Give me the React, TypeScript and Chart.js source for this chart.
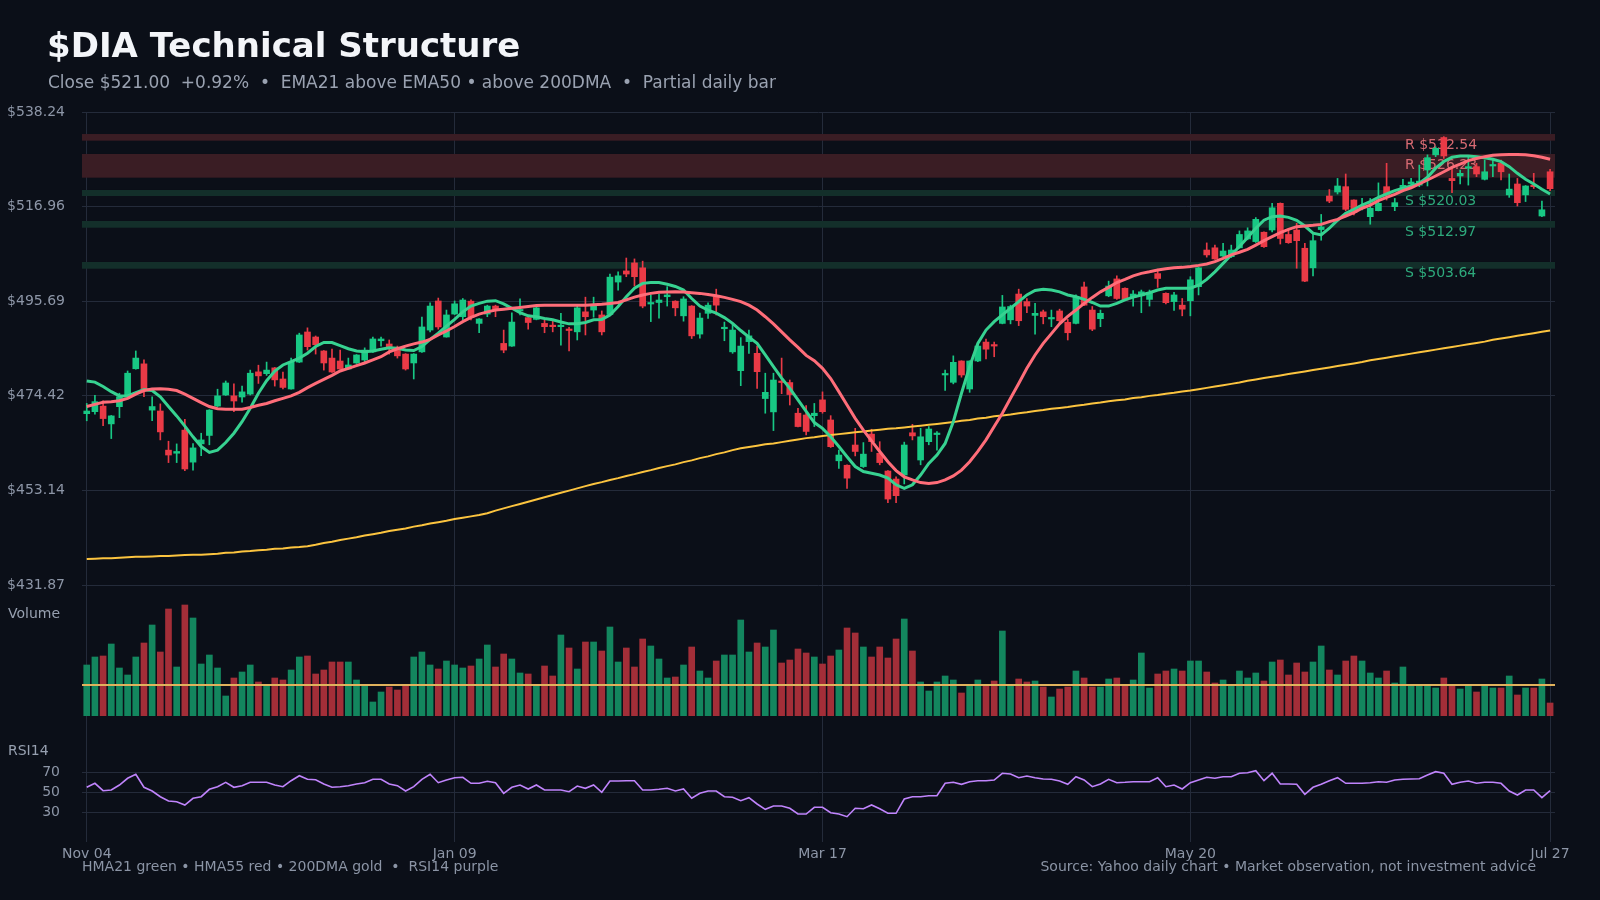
import React, { useEffect, useRef } from 'react';
import { Chart, registerables } from 'chart.js';

Chart.register(...registerables);

const FONT = '"DejaVu Sans", "Liberation Sans", Arial, sans-serif';
const BG = '#0b0f18';
const GRID = '#242b3a';
const TICK = '#8d96a7';
const UP = '#18c884';
const DOWN = '#ea3a46';
const VOL_UP = '#13865e';
const VOL_DOWN = '#a32e38';

// Daily OHLC, one entry per session (Nov 04 .. Jul 27)
const opens = [
  470.40, 470.85, 472.10, 468.10, 471.97, 474.20, 480.50, 481.60, 471.20, 471.00,
  462.20, 461.50, 466.70, 459.50, 463.60, 465.50, 472.10, 474.60, 474.40, 474.15,
  474.80, 479.80, 479.40, 480.70, 478.20, 475.95, 482.00, 488.77, 487.64, 484.50,
  482.90, 482.24, 480.45, 481.80, 482.47, 484.30, 486.80, 486.07, 485.20, 483.80,
  481.80, 484.30, 489.20, 495.74, 487.64, 492.80, 492.20, 495.70, 490.70, 492.80,
  494.60, 486.20, 485.60, 493.50, 492.00, 491.60, 490.70, 490.30, 489.97, 489.40,
  488.80, 493.30, 493.70, 492.60, 492.70, 500.00, 502.50, 504.30, 503.20, 495.06,
  495.40, 496.70, 495.70, 492.40, 494.60, 488.30, 492.96, 496.70, 489.50, 484.30,
  480.07, 486.60, 483.97, 473.80, 470.80, 477.60, 477.40, 470.50, 470.10, 469.95,
  473.50, 468.98, 459.80, 458.80, 463.35, 458.50, 465.80, 461.50, 457.50, 455.70,
  456.60, 466.10, 459.98, 464.10, 465.70, 479.10, 477.45, 482.25, 475.95, 482.25,
  486.50, 485.85, 490.70, 491.50, 497.30, 495.60, 492.50, 493.30, 491.70, 493.50,
  490.95, 490.70, 498.90, 493.70, 491.76, 496.90, 500.70, 498.60, 496.56, 496.90,
  496.10, 501.90, 497.46, 495.60, 494.80, 495.80, 498.96, 507.20, 507.70, 505.85,
  505.70, 507.70, 509.70, 509.10, 511.20, 511.70, 517.70, 510.70, 511.70, 507.60,
  503.20, 511.80, 519.35, 520.25, 521.45, 518.45, 516.80, 514.70, 516.05, 521.45,
  516.95, 520.55, 522.05, 521.80, 525.20, 528.60, 532.50, 523.30, 523.85, 525.60,
  525.95, 523.10, 526.10, 526.70, 519.60, 522.05, 519.60, 521.80, 514.85, 524.80,
];

const highs = [
  472.70, 474.50, 473.30, 470.00, 475.00, 480.00, 484.50, 482.50, 474.20, 472.60,
  464.20, 463.60, 469.10, 463.70, 466.00, 471.30, 475.90, 477.75, 477.10, 476.60,
  480.20, 481.30, 482.00, 480.80, 479.77, 482.90, 488.50, 489.70, 487.87, 484.60,
  484.94, 484.70, 482.90, 483.70, 485.20, 487.60, 487.64, 486.97, 485.60, 483.90,
  483.90, 492.10, 495.30, 496.40, 493.70, 495.74, 496.30, 496.00, 491.80, 494.80,
  494.80, 489.20, 493.10, 496.20, 492.10, 494.50, 491.50, 491.50, 492.96, 489.80,
  494.60, 496.60, 496.60, 493.50, 501.80, 502.30, 505.40, 505.20, 504.70, 497.10,
  497.30, 498.96, 495.80, 496.70, 494.70, 493.00, 495.30, 498.40, 491.00, 490.70,
  487.50, 489.20, 485.60, 479.50, 479.50, 482.90, 477.97, 471.60, 472.20, 472.70,
  475.30, 469.95, 462.20, 458.90, 467.10, 463.90, 466.90, 464.10, 457.60, 456.20,
  464.00, 468.00, 467.10, 467.50, 466.35, 480.20, 483.40, 482.30, 482.30, 486.20,
  487.20, 486.50, 497.00, 494.80, 498.40, 496.30, 495.20, 493.70, 493.70, 493.90,
  491.60, 497.10, 500.00, 494.50, 493.70, 500.20, 501.40, 498.70, 498.06, 498.20,
  498.20, 502.90, 497.60, 497.70, 496.30, 501.20, 503.30, 508.80, 508.30, 508.70,
  508.30, 511.50, 512.20, 514.50, 511.30, 517.70, 517.80, 511.70, 513.20, 508.70,
  510.90, 515.20, 520.80, 523.30, 524.30, 518.50, 518.80, 518.80, 522.30, 526.70,
  518.80, 523.10, 523.30, 526.30, 528.60, 530.40, 532.70, 525.90, 525.20, 528.05,
  526.70, 527.45, 527.80, 527.45, 524.30, 523.30, 521.70, 524.45, 518.20, 525.35,
];

const lows = [
  468.80, 470.30, 467.70, 464.80, 469.50, 473.80, 480.40, 474.20, 468.80, 464.50,
  459.40, 459.40, 457.60, 457.70, 460.95, 463.40, 472.00, 474.50, 470.85, 473.00,
  474.60, 477.20, 479.00, 476.60, 475.95, 475.90, 481.90, 484.70, 483.80, 480.20,
  479.70, 480.40, 480.40, 481.70, 482.00, 484.20, 485.60, 483.80, 482.90, 480.20,
  478.20, 484.20, 488.80, 489.40, 487.60, 492.70, 491.50, 491.50, 488.60, 492.20,
  492.20, 484.10, 485.50, 492.60, 489.40, 491.50, 488.60, 488.80, 485.80, 484.50,
  486.97, 488.10, 492.10, 488.10, 492.60, 498.20, 501.20, 499.10, 494.20, 491.10,
  491.90, 494.60, 492.40, 491.20, 487.30, 487.40, 491.80, 492.60, 486.80, 483.97,
  476.70, 483.97, 476.10, 470.50, 466.60, 474.90, 472.35, 467.40, 465.60, 467.50,
  470.50, 462.80, 458.10, 453.60, 460.90, 458.30, 461.90, 458.90, 450.40, 450.40,
  454.60, 464.50, 458.90, 463.40, 462.20, 475.60, 477.10, 478.60, 475.20, 482.10,
  482.70, 483.20, 490.60, 490.60, 490.20, 493.10, 488.30, 490.60, 489.97, 490.60,
  486.97, 490.60, 494.70, 489.07, 489.97, 496.70, 496.10, 495.90, 494.60, 493.10,
  494.60, 498.80, 495.06, 493.60, 492.40, 492.40, 497.10, 505.60, 505.10, 505.70,
  505.50, 507.60, 509.50, 508.90, 507.80, 511.30, 508.55, 508.70, 503.10, 500.10,
  501.40, 509.40, 517.85, 519.80, 516.05, 515.10, 516.20, 513.00, 516.00, 518.45,
  516.05, 520.30, 521.05, 521.45, 521.60, 528.20, 527.80, 520.10, 522.05, 521.80,
  523.70, 522.95, 523.70, 522.95, 519.05, 517.10, 518.10, 521.05, 514.70, 520.55,
];

const closes = [
  471.00, 473.10, 469.30, 469.90, 474.20, 479.50, 482.90, 475.90, 472.00, 466.30,
  461.10, 461.90, 457.96, 462.70, 464.50, 471.20, 474.40, 477.30, 473.25, 475.30,
  479.50, 478.90, 480.20, 478.00, 476.30, 482.00, 488.10, 485.47, 485.90, 481.80,
  479.77, 480.45, 481.35, 483.60, 484.70, 487.20, 487.20, 485.20, 483.40, 480.45,
  483.80, 489.90, 494.60, 489.90, 492.60, 495.10, 495.96, 492.10, 491.70, 494.60,
  493.70, 484.70, 491.00, 493.80, 490.90, 494.20, 489.97, 489.97, 490.30, 489.10,
  494.20, 492.20, 494.60, 488.80, 501.10, 501.40, 501.80, 501.20, 494.60, 495.40,
  495.96, 497.10, 494.20, 496.20, 487.90, 491.90, 494.80, 494.80, 489.60, 489.20,
  485.60, 487.90, 479.85, 475.20, 477.97, 477.40, 474.70, 467.50, 466.40, 470.50,
  470.85, 462.98, 461.10, 455.90, 461.90, 461.30, 464.10, 459.40, 451.20, 451.96,
  463.35, 465.40, 465.20, 466.95, 465.90, 479.30, 481.95, 479.10, 482.25, 485.60,
  484.90, 485.60, 494.40, 494.50, 491.30, 494.60, 492.96, 492.20, 491.99, 491.30,
  488.60, 496.70, 494.80, 489.40, 492.96, 499.10, 496.30, 495.96, 497.30, 497.80,
  497.46, 500.80, 495.36, 497.10, 493.90, 500.50, 503.20, 506.10, 505.20, 506.98,
  507.20, 510.70, 511.50, 514.10, 507.95, 516.70, 509.80, 508.85, 509.30, 500.20,
  509.30, 512.40, 518.20, 521.60, 516.35, 515.60, 517.10, 516.60, 517.70, 519.60,
  517.85, 521.75, 522.50, 522.70, 527.97, 530.07, 528.35, 522.80, 524.45, 525.95,
  524.30, 524.80, 526.40, 524.80, 520.90, 517.85, 521.60, 521.45, 516.25, 521.00,
];

// Hull moving averages and 200-day simple average, as plotted
const hma21 = [
  477.75, 477.50, 476.50, 475.35, 474.40, 474.40, 475.10, 475.80, 475.60, 474.20,
  472.00, 469.90, 467.60, 465.20, 463.00, 461.70, 462.20, 463.90, 466.00, 468.60,
  471.60, 475.00, 477.80, 480.00, 481.35, 482.10, 482.90, 484.00, 485.50, 486.40,
  486.40, 485.70, 485.00, 484.50, 484.30, 484.50, 484.90, 485.20, 485.10, 484.70,
  484.60, 485.50, 487.10, 488.50, 490.10, 491.60, 493.30, 494.60, 495.20, 495.70,
  495.80, 495.10, 494.10, 493.10, 492.40, 492.20, 491.80, 491.50, 491.00, 490.60,
  490.60, 490.90, 491.50, 491.60, 492.60, 494.50, 496.70, 498.60, 499.70, 499.90,
  499.90, 499.50, 499.00, 498.20, 496.30, 494.60, 493.70, 493.00, 492.00, 490.70,
  489.10, 487.60, 486.20, 483.60, 481.00, 478.40, 476.10, 473.50, 470.90, 468.40,
  467.10, 465.20, 463.00, 460.70, 458.50, 457.40, 457.00, 456.60, 455.90, 454.40,
  453.60, 454.40, 456.60, 459.20, 461.10, 463.70, 468.60, 475.00, 481.00, 486.20,
  489.20, 491.10, 492.60, 494.10, 495.60, 497.10, 498.10, 498.40, 498.20, 497.80,
  497.10, 496.70, 496.10, 495.40, 494.60, 494.60, 495.20, 496.00, 496.60, 497.10,
  497.60, 498.20, 498.60, 498.60, 498.60, 498.60, 499.30, 500.60, 502.30, 504.20,
  506.10, 508.00, 510.00, 512.10, 513.90, 514.70, 514.85, 514.55, 513.90, 512.60,
  511.00, 510.60, 512.10, 513.90, 515.45, 516.35, 517.30, 518.10, 519.05, 519.80,
  520.55, 521.10, 521.60, 522.20, 523.55, 525.60, 527.10, 528.05, 528.35, 528.35,
  528.20, 527.95, 527.60, 527.10, 525.95, 524.45, 523.10, 522.05, 520.85, 519.80,
];

const hma55 = [
  472.00, 472.50, 472.95, 473.10, 473.30, 473.85, 474.80, 475.60, 475.95, 476.00,
  475.90, 475.60, 474.80, 473.85, 472.90, 472.00, 471.50, 471.40, 471.40, 471.40,
  471.80, 472.30, 472.70, 473.30, 473.85, 474.40, 475.20, 476.25, 477.20, 478.10,
  479.00, 480.00, 480.60, 481.20, 481.80, 482.50, 483.20, 484.30, 485.00, 485.60,
  486.10, 486.50, 487.10, 488.10, 489.00, 490.00, 491.10, 492.05, 492.80, 493.30,
  493.70, 493.90, 494.10, 494.30, 494.50, 494.70, 494.80, 494.80, 494.80, 494.80,
  494.80, 494.80, 494.90, 495.00, 495.20, 495.40, 496.00, 496.60, 497.10, 497.45,
  497.70, 497.75, 497.80, 497.75, 497.60, 497.45, 497.20, 496.90, 496.55, 496.10,
  495.60, 494.80, 493.70, 492.20, 490.60, 488.80, 487.00, 485.30, 483.50, 482.30,
  480.60, 478.30, 475.35, 472.35, 469.35, 466.70, 464.30, 461.90, 459.60, 457.60,
  456.20, 455.50, 454.90, 454.70, 454.90, 455.50, 456.40, 457.70, 459.60, 461.90,
  464.50, 467.50, 470.50, 473.85, 477.20, 480.60, 483.60, 486.20, 488.40, 490.60,
  492.30, 493.70, 495.20, 496.55, 497.80, 498.80, 499.90, 500.60, 501.40, 501.95,
  502.30, 502.70, 503.00, 503.20, 503.30, 503.50, 503.75, 504.05, 504.60, 505.30,
  506.10, 506.70, 507.35, 508.30, 509.30, 510.20, 511.10, 511.85, 512.45, 512.60,
  512.75, 512.97, 513.60, 514.10, 514.85, 515.60, 516.60, 517.30, 518.30, 519.05,
  519.70, 520.55, 521.20, 522.05, 522.95, 523.85, 524.80, 525.80, 526.50, 527.30,
  527.80, 528.20, 528.50, 528.65, 528.70, 528.70, 528.65, 528.40, 528.05, 527.60,
];

const sma200 = [
  437.70, 437.80, 437.90, 437.90, 438.00, 438.10, 438.20, 438.20, 438.30, 438.40,
  438.40, 438.50, 438.60, 438.70, 438.70, 438.80, 438.90, 439.10, 439.20, 439.40,
  439.50, 439.70, 439.80, 440.00, 440.10, 440.30, 440.40, 440.60, 440.90, 441.30,
  441.60, 442.00, 442.30, 442.60, 443.00, 443.30, 443.60, 444.00, 444.30, 444.60,
  445.00, 445.30, 445.70, 446.00, 446.30, 446.70, 447.00, 447.30, 447.60, 448.00,
  448.60, 449.10, 449.60, 450.10, 450.60, 451.10, 451.60, 452.10, 452.60, 453.10,
  453.60, 454.10, 454.60, 455.00, 455.50, 455.90, 456.40, 456.80, 457.30, 457.70,
  458.20, 458.60, 459.00, 459.50, 459.90, 460.40, 460.80, 461.30, 461.70, 462.20,
  462.60, 462.90, 463.20, 463.50, 463.70, 464.00, 464.30, 464.60, 464.90, 465.10,
  465.40, 465.60, 465.80, 466.00, 466.20, 466.40, 466.60, 466.80, 467.00, 467.10,
  467.30, 467.50, 467.70, 467.90, 468.10, 468.30, 468.50, 468.80, 469.00, 469.30,
  469.50, 469.80, 470.00, 470.20, 470.50, 470.70, 471.00, 471.20, 471.50, 471.70,
  471.90, 472.20, 472.40, 472.70, 472.90, 473.20, 473.40, 473.60, 473.90, 474.10,
  474.40, 474.60, 474.90, 475.10, 475.40, 475.60, 475.90, 476.20, 476.50, 476.80,
  477.10, 477.40, 477.80, 478.10, 478.40, 478.70, 479.00, 479.30, 479.60, 479.90,
  480.20, 480.50, 480.80, 481.10, 481.40, 481.70, 482.00, 482.40, 482.70, 483.00,
  483.30, 483.60, 483.90, 484.20, 484.50, 484.80, 485.10, 485.40, 485.70, 486.00,
  486.30, 486.60, 487.00, 487.30, 487.60, 487.90, 488.20, 488.50, 488.80, 489.10,
];

// Volume in millions of shares
const volumes = [
  2.55, 2.95, 3.00, 3.60, 2.40, 2.05, 2.95, 3.65, 4.55, 3.20,
  5.35, 2.45, 5.55, 4.90, 2.60, 3.05, 2.40, 1.00, 1.90, 2.20,
  2.55, 1.70, 1.50, 1.90, 1.80, 2.30, 2.95, 3.00, 2.10, 2.30,
  2.70, 2.70, 2.70, 1.80, 1.50, 0.70, 1.20, 1.45, 1.30, 1.55,
  2.95, 3.20, 2.55, 2.35, 2.75, 2.55, 2.40, 2.50, 2.85, 3.55,
  2.45, 3.10, 2.85, 2.15, 2.10, 1.55, 2.50, 2.00, 4.05, 3.40,
  2.35, 3.70, 3.70, 3.25, 4.45, 2.70, 3.40, 2.45, 3.85, 3.50,
  2.85, 1.90, 1.95, 2.55, 3.45, 2.25, 1.90, 2.75, 3.05, 3.05,
  4.80, 3.20, 3.65, 3.45, 4.30, 2.65, 2.80, 3.35, 3.15, 2.95,
  2.60, 3.00, 3.30, 4.40, 4.15, 3.45, 2.95, 3.45, 2.90, 3.85,
  4.85, 3.25, 1.70, 1.25, 1.70, 2.00, 1.80, 1.15, 1.50, 1.80,
  1.50, 1.75, 4.25, 1.50, 1.85, 1.70, 1.75, 1.45, 0.95, 1.35,
  1.45, 2.25, 1.90, 1.45, 1.45, 1.85, 1.90, 1.55, 1.80, 3.15,
  1.40, 2.10, 2.25, 2.35, 2.25, 2.75, 2.75, 2.20, 1.65, 1.80,
  1.55, 2.25, 1.90, 2.15, 1.75, 2.70, 2.80, 2.05, 2.65, 2.20,
  2.70, 3.50, 2.30, 2.05, 2.75, 3.00, 2.75, 2.15, 1.90, 2.25,
  1.65, 2.45, 1.50, 1.50, 1.50, 1.40, 1.90, 1.55, 1.35, 1.55,
  1.20, 1.50, 1.40, 1.40, 2.00, 1.05, 1.40, 1.40, 1.85, 0.65,
];
const volumeAverage = 1.55;

const rsi14 = [
  54.7, 58.7, 51.3, 52.0, 57.0, 63.7, 67.7, 54.7, 51.0, 45.3,
  41.0, 40.3, 37.0, 43.7, 45.3, 52.7, 55.3, 59.7, 54.7, 56.3,
  59.7, 59.7, 59.7, 57.0, 55.3, 61.3, 66.3, 62.7, 62.3, 58.0,
  54.7, 55.3, 56.3, 58.0, 59.3, 62.7, 62.7, 58.0, 56.3, 51.0,
  55.3, 62.7, 67.7, 59.3, 62.0, 64.3, 64.7, 58.7, 58.7, 60.7,
  59.3, 48.7, 54.7, 57.0, 53.0, 57.0, 52.0, 52.0, 52.0, 50.3,
  56.0, 53.7, 57.0, 49.7, 61.0, 61.0, 61.3, 61.3, 52.0, 52.0,
  52.7, 53.7, 51.0, 53.0, 43.7, 48.7, 51.0, 51.0, 45.3, 44.7,
  41.3, 44.3, 38.0, 32.7, 36.0, 36.0, 33.7, 28.0, 28.0, 34.7,
  34.7, 29.3, 28.0, 25.3, 33.7, 33.3, 37.0, 33.3, 28.7, 28.7,
  43.0, 45.3, 45.3, 46.3, 46.3, 58.7, 59.7, 57.7, 60.3, 61.3,
  61.3, 62.0, 68.7, 68.0, 64.3, 66.0, 64.3, 63.0, 62.7, 61.0,
  57.7, 65.3, 62.0, 55.3, 58.0, 62.7, 59.3, 59.7, 60.3, 60.3,
  60.3, 64.3, 55.3, 57.0, 53.0, 59.3, 62.0, 64.7, 63.7, 65.3,
  65.3, 68.7, 69.3, 71.3, 61.3, 68.7, 58.0, 58.0, 57.7, 47.7,
  54.7, 57.7, 61.3, 64.3, 58.7, 58.7, 58.7, 59.3, 60.3, 59.7,
  62.0, 62.7, 63.0, 63.3, 67.0, 70.3, 68.7, 57.7, 59.7, 61.0,
  58.7, 59.7, 59.7, 58.7, 51.0, 47.0, 52.0, 52.0, 44.3, 51.3,
];

// Support / resistance zones
const zoneKinds = ['R', 'R', 'S', 'S', 'S'];
const zoneLevels = [532.54, 526.23, 520.03, 512.97, 503.64];
const zoneLows = [531.79, 523.47, 519.35, 512.22, 503.00];
const zoneHighs = [533.29, 528.80, 520.70, 513.73, 504.51];

const priceTicks = [431.87, 453.14, 474.42, 495.69, 516.96, 538.24];
const rsiTicks = [30, 50, 70];
const dateTickIndex = [0, 45, 90, 135, 179];
const dateTickLabels = ['Nov 04', 'Jan 09', 'Mar 17', 'May 20', 'Jul 27'];

const lastClose = closes[closes.length - 1];
const prevClose = closes[closes.length - 2];
const pctChange = (lastClose / prevClose - 1) * 100;

const overlays = {
  id: 'overlays',
  beforeDatasetsDraw(chart: any) {
    const { ctx, chartArea, scales } = chart;
    const y = scales.y;
    ctx.save();
    zoneLevels.forEach((_, k) => {
      const top = y.getPixelForValue(zoneHighs[k]);
      const bottom = y.getPixelForValue(zoneLows[k]);
      ctx.fillStyle = zoneKinds[k] === 'R' ? '#3a1d24' : '#132f2a';
      ctx.fillRect(chartArea.left, top, chartArea.right - chartArea.left, bottom - top);
    });
    ctx.font = `14px ${FONT}`;
    ctx.textAlign = 'left';
    ctx.textBaseline = 'alphabetic';
    zoneLevels.forEach((lvl, k) => {
      ctx.fillStyle = zoneKinds[k] === 'R' ? '#d66a72' : '#2eaa7c';
      ctx.fillText(
        `${zoneKinds[k]} $${lvl.toFixed(2)}`,
        chartArea.right - 150,
        y.getPixelForValue(zoneHighs[k]) + 15
      );
    });
    ctx.fillStyle = '#97a0b0';
    ctx.fillText('Volume', 8, scales.yVol.top + 33);
    ctx.fillText('RSI14', 8, scales.yRsi.top + 39);
    ctx.restore();
  },
  afterDatasetsDraw(chart: any) {
    const { ctx, chartArea, scales } = chart;
    const py = scales.yVol.getPixelForValue(volumeAverage);
    ctx.save();
    ctx.strokeStyle = '#e0b25c';
    ctx.lineWidth = 2;
    ctx.beginPath();
    ctx.moveTo(chartArea.left, py);
    ctx.lineTo(chartArea.right, py);
    ctx.stroke();
    ctx.restore();
  },
};

export default function App() {
  const canvasRef = useRef<HTMLCanvasElement>(null);

  useEffect(() => {
    if (!canvasRef.current) return;
    Chart.defaults.font.family = FONT;
    Chart.defaults.font.size = 14;
    Chart.defaults.color = TICK;

    const rising = closes.map((c, i) => c >= opens[i]);
    const candleColors = rising.map((r) => (r ? UP : DOWN));
    const volColors = rising.map((r) => (r ? VOL_UP : VOL_DOWN));
    const idx = closes.map((_, i) => i);

    const line = (values: number[], color: string, width: number, order: number, axis = 'y') => ({
      type: 'line' as const,
      data: values.map((v, i) => ({ x: i, y: v })),
      borderColor: color,
      borderWidth: width,
      pointRadius: 0,
      tension: 0,
      fill: false,
      yAxisID: axis,
      order,
    });

    const chart = new Chart(canvasRef.current, {
      type: 'bar',
      data: {
        datasets: [
          line(rsi14, '#c084fc', 1.6, 0, 'yRsi') as any,
          line(hma55, '#ff6d79', 3, 1) as any,
          line(hma21, '#37d291', 3, 2) as any,
          line(sma200, '#fcc43f', 2, 3) as any,
          {
            type: 'bar',
            data: idx.map((i) => ({ x: i, y: [opens[i], closes[i]] })),
            backgroundColor: candleColors,
            barThickness: 6,
            minBarLength: 1.5,
            grouped: false,
            borderWidth: 0,
            yAxisID: 'y',
            order: 4,
          } as any,
          {
            type: 'bar',
            data: idx.map((i) => ({ x: i, y: [lows[i], highs[i]] })),
            backgroundColor: candleColors,
            barThickness: 1,
            grouped: false,
            borderWidth: 0,
            yAxisID: 'y',
            order: 5,
          } as any,
          {
            type: 'bar',
            data: idx.map((i) => ({ x: i, y: volumes[i] })),
            backgroundColor: volColors,
            barThickness: 6,
            grouped: false,
            borderWidth: 0,
            yAxisID: 'yVol',
            order: 6,
          } as any,
        ],
      },
      options: {
        responsive: false,
        animation: false,
        devicePixelRatio: 1,
        events: [],
        layout: { padding: { left: 8, right: 45, top: 112, bottom: 38 } },
        plugins: { legend: { display: false }, tooltip: { enabled: false } },
        scales: {
          x: {
            type: 'linear',
            offset: false,
            min: -0.58,
            max: 179.6,
            afterBuildTicks: (s: any) => {
              s.ticks = dateTickIndex.map((v) => ({ value: v }));
            },
            afterFit: (s: any) => {
              s.height = 20;
            },
            grid: { color: GRID, drawTicks: false, offset: false },
            border: { display: false },
            ticks: {
              color: TICK,
              padding: 4,
              autoSkip: false,
              maxRotation: 0,
              callback: (_v: any, i: number) => dateTickLabels[i],
            },
          },
          y: {
            type: 'linear',
            position: 'left',
            stack: 'panes',
            stackWeight: 473,
            weight: 3,
            min: priceTicks[0],
            max: priceTicks[priceTicks.length - 1],
            afterBuildTicks: (s: any) => {
              s.ticks = priceTicks.map((v) => ({ value: v }));
            },
            afterFit: (s: any) => {
              s.width = 74;
            },
            grid: { color: GRID, drawTicks: false },
            border: { display: false },
            ticks: {
              color: TICK,
              padding: 17,
              callback: (v: any) => '$' + Number(v).toFixed(2),
            },
          },
          yVol: {
            type: 'linear',
            position: 'left',
            stack: 'panes',
            stackWeight: 131,
            weight: 2,
            min: 0,
            max: 6.55,
            afterFit: (s: any) => {
              s.width = 74;
            },
            grid: { display: false },
            border: { display: false },
            ticks: { display: false },
          },
          yRsi: {
            type: 'linear',
            position: 'left',
            stack: 'panes',
            stackWeight: 126,
            weight: 1,
            min: 0,
            max: 126,
            afterBuildTicks: (s: any) => {
              s.ticks = rsiTicks.map((v) => ({ value: v }));
            },
            afterFit: (s: any) => {
              s.width = 74;
            },
            grid: { color: GRID, drawTicks: false },
            border: { display: false },
            ticks: { color: TICK, padding: 22 },
          },
        } as any,
      },
      plugins: [overlays],
    } as any);

    return () => chart.destroy();
  }, []);

  const sign = pctChange >= 0 ? '+' : '';
  const subtitle = `Close $${lastClose.toFixed(2)}  ${sign}${pctChange.toFixed(2)}%  •  EMA21 above EMA50 • above 200DMA  •  Partial daily bar`;

  return (
    <div
      style={{
        position: 'fixed',
        left: 0,
        top: 0,
        width: 1600,
        height: 900,
        background: BG,
        overflow: 'hidden',
        fontFamily: FONT,
      }}
    >
      <canvas
        ref={canvasRef}
        width={1600}
        height={900}
        style={{ position: 'absolute', left: 0, top: 0, width: 1600, height: 900 }}
      />
      <div
        style={{
          position: 'absolute',
          left: 47,
          top: 28,
          fontSize: 34,
          fontWeight: 700,
          lineHeight: 1,
          color: '#f3f5f9',
          whiteSpace: 'pre',
        }}
      >
        $DIA Technical Structure
      </div>
      <div
        style={{
          position: 'absolute',
          left: 48,
          top: 74,
          fontSize: 17,
          lineHeight: 1,
          color: '#9aa2b1',
          whiteSpace: 'pre',
        }}
      >
        {subtitle}
      </div>
      <div
        style={{
          position: 'absolute',
          left: 82,
          top: 859,
          fontSize: 14,
          lineHeight: 1,
          color: '#8b94a5',
          whiteSpace: 'pre',
        }}
      >
        {'HMA21 green • HMA55 red • 200DMA gold  •  RSI14 purple'}
      </div>
      <div
        style={{
          position: 'absolute',
          right: 64,
          top: 859,
          fontSize: 14,
          lineHeight: 1,
          color: '#8b94a5',
          whiteSpace: 'pre',
        }}
      >
        Source: Yahoo daily chart • Market observation, not investment advice
      </div>
    </div>
  );
}
